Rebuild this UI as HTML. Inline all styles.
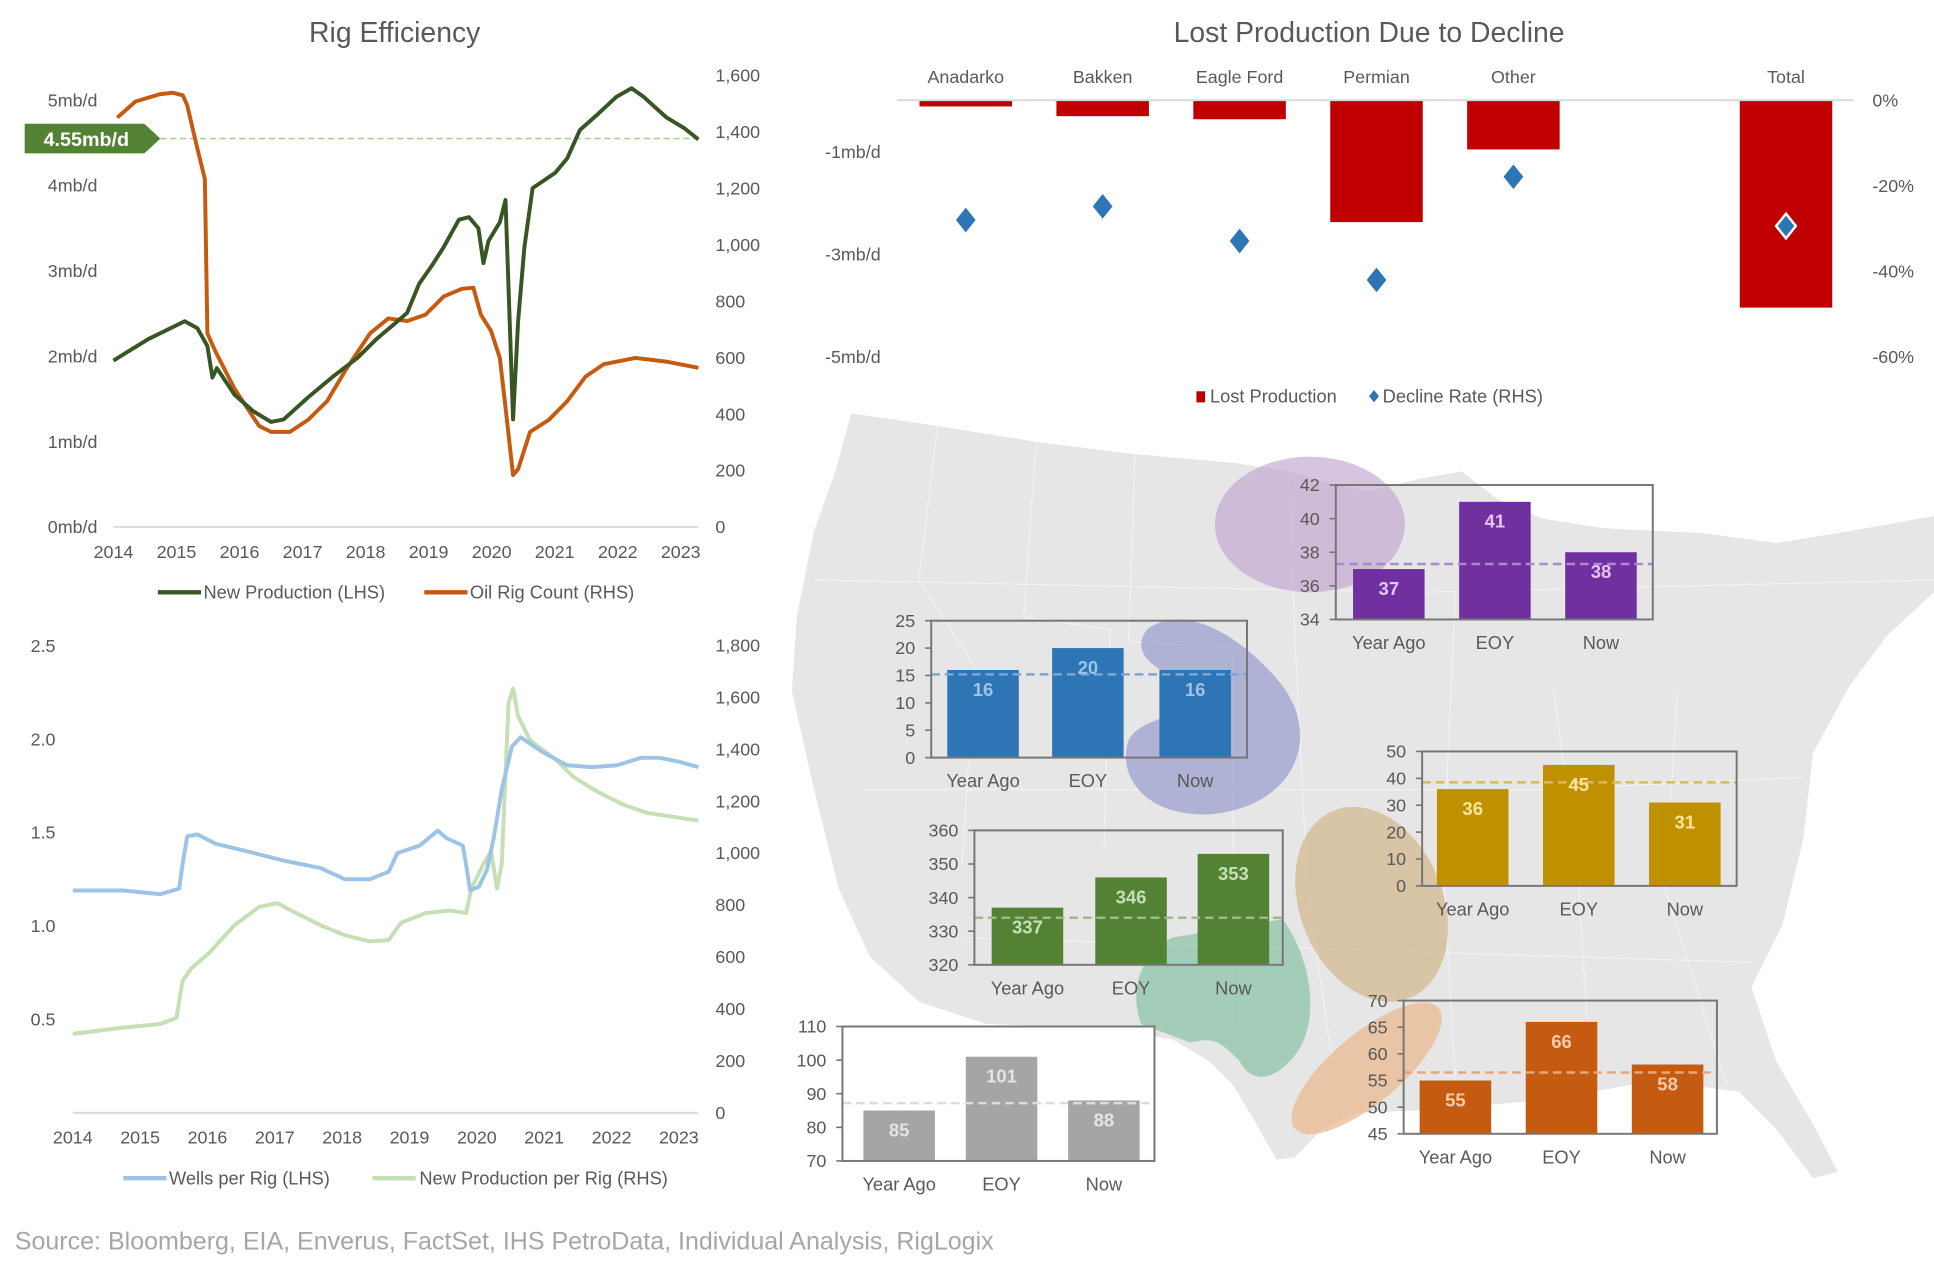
<!DOCTYPE html>
<html><head><meta charset="utf-8">
<style>
html,body{margin:0;padding:0;background:#fff;}
svg{display:block;font-family:"Liberation Sans",Arial,sans-serif;}
text{fill:#595959;}
</style></head>
<body>
<svg id="root" width="1934" height="1271" viewBox="0 0 1568 1030" xmlns="http://www.w3.org/2000/svg">
  <g id="map">
    <path fill="#e6e6e6" d="M690,335 L760,345 L840,358 L920,368 L1000,375 L1045,382 L1080,392 L1110,398 L1150,388 L1185,382 L1215,405 L1250,420 L1300,428 L1380,432 L1440,440 L1490,432 L1530,425 L1568,418 L1568,480 L1530,515 L1500,555 L1470,610 L1462,680 L1445,750 L1420,800 L1440,860 L1472,915 L1490,950 L1470,955 L1440,915 L1410,885 L1375,880 L1330,878 L1290,885 L1250,892 L1200,896 L1150,900 L1100,902 L1072,915 L1050,938 L1035,940 L1015,905 L1000,880 L980,860 L950,842 L905,836 L860,832 L800,830 L745,812 L705,775 L680,720 L660,640 L642,560 L646,500 L660,430 L678,380 Z"/>
    <g stroke="#fff" stroke-width="1" fill="none" opacity="0.45">
      <path d="M760,345 L745,470 L790,540 L780,700"/>
      <path d="M840,358 L830,500 L900,510 L895,690"/>
      <path d="M920,368 L915,520 L1000,525 L1000,830"/>
      <path d="M1045,382 L1050,520 L1060,720 L1080,860"/>
      <path d="M1180,480 L1170,700 L1180,880"/>
      <path d="M1260,560 L1280,720 L1290,880"/>
      <path d="M1360,560 L1350,720 L1400,880"/>
      <path d="M660,470 L1150,480 L1568,470"/>
      <path d="M700,640 L1250,640 L1460,630"/>
      <path d="M780,760 L1420,780"/>
    </g>
    <ellipse cx="1062" cy="425" rx="77" ry="55" fill="rgba(190,160,205,0.62)"/>
    <path fill="rgba(140,145,200,0.62)" d="M930,510 C960,488 1005,515 1035,550 C1075,595 1050,655 980,660 C930,662 905,630 915,600 C925,580 960,585 965,560 C950,545 912,535 930,510 Z"/>
    <ellipse cx="1112" cy="733" rx="58" ry="82" transform="rotate(-22 1112 733)" fill="rgba(210,185,140,0.72)"/>
    <path fill="rgba(140,195,170,0.75)" d="M950,760 L1040,745 C1065,780 1070,830 1050,855 C1035,875 1015,880 1005,860 C990,845 985,840 965,845 L925,830 C915,800 925,775 950,760 Z"/>
    <ellipse cx="1108" cy="866" rx="76" ry="28" transform="rotate(-40 1108 866)" fill="rgba(235,185,140,0.72)"/>
  </g>
  <g id="charts"></g>
  <text x="12" y="1013" font-size="20.3" style="fill:#a6a6a6">Source: Bloomberg, EIA, Enverus, FactSet, IHS PetroData, Individual Analysis, RigLogix</text>
</svg>
<script>
// ---------- Data: Rig Efficiency (top-left) ----------
const npYears = [2014.0,2014.55,2015.13,2015.33,2015.49,2015.57,2015.64,2015.92,2016.21,2016.5,2016.7,2017.09,2017.48,2017.87,2018.17,2018.46,2018.66,2018.85,2019.05,2019.24,2019.48,2019.64,2019.79,2019.87,2019.95,2020.13,2020.22,2020.34,2020.42,2020.52,2020.65,2021.01,2021.2,2021.4,2021.69,2021.98,2022.22,2022.41,2022.77,2023.06,2023.28];
const npValues = [1.95,2.2,2.41,2.33,2.12,1.75,1.86,1.55,1.36,1.23,1.26,1.52,1.76,1.98,2.2,2.38,2.51,2.85,3.06,3.28,3.6,3.63,3.5,3.09,3.35,3.57,3.83,1.26,2.41,3.28,3.97,4.15,4.32,4.65,4.84,5.04,5.14,5.04,4.8,4.67,4.54];
const rigYears = [2014.06,2014.35,2014.74,2014.94,2015.1,2015.17,2015.33,2015.45,2015.49,2015.62,2015.92,2016.31,2016.5,2016.8,2017.09,2017.39,2017.68,2018.07,2018.36,2018.66,2018.95,2019.24,2019.53,2019.71,2019.83,2019.99,2020.13,2020.22,2020.34,2020.42,2020.61,2020.91,2021.2,2021.49,2021.78,2022.28,2022.77,2023.28];
const rigValues = [1451,1508,1534,1539,1530,1495,1342,1233,686,621,490,358,337,337,380,446,555,686,739,730,752,817,844,848,752,695,599,424,184,205,337,380,446,533,577,599,586,564];
const currentLevel = 4.55;
const yearTicks = [2014,2015,2016,2017,2018,2019,2020,2021,2022,2023];
const lhsTicks1 = [0,1,2,3,4,5];
const rhsTicks1 = [0,200,400,600,800,1000,1200,1400,1600];
// ---------- Data: Wells per Rig (bottom-left) ----------
const wprYears = [2014.0,2014.75,2015.3,2015.58,2015.63,2015.7,2015.85,2016.12,2016.58,2017.13,2017.68,2018.04,2018.41,2018.69,2018.82,2019.15,2019.42,2019.55,2019.79,2019.84,2019.9,2020.03,2020.15,2020.25,2020.37,2020.52,2020.65,2020.98,2021.34,2021.71,2022.08,2022.44,2022.72,2022.99,2023.29];
const wprValues = [1.19,1.19,1.17,1.2,1.33,1.48,1.49,1.44,1.4,1.35,1.31,1.25,1.25,1.29,1.39,1.43,1.51,1.47,1.43,1.33,1.19,1.21,1.3,1.47,1.73,1.96,2.01,1.93,1.86,1.85,1.86,1.9,1.9,1.88,1.85];
const nprYears = [2014.0,2014.75,2015.3,2015.54,2015.63,2015.76,2016.03,2016.4,2016.77,2017.04,2017.32,2017.68,2018.04,2018.41,2018.69,2018.87,2019.24,2019.6,2019.84,2019.92,2020.1,2020.21,2020.3,2020.37,2020.47,2020.54,2020.61,2020.79,2021.16,2021.44,2021.8,2022.17,2022.54,2022.9,2023.29];
const nprValues = [304,328,342,366,508,556,617,722,793,807,769,722,684,660,665,731,769,779,769,864,959,1007,864,959,1576,1633,1529,1434,1363,1292,1235,1187,1154,1140,1125];
const lhsTicks2 = [0.5,1.0,1.5,2.0,2.5];
const rhsTicks2 = [0,200,400,600,800,1000,1200,1400,1600,1800];
// ---------- Data: Lost Production (top-right) ----------
const basins = ["Anadarko","Bakken","Eagle Ford","Permian","Other","Total"];
const lostProd = [-0.11,-0.30,-0.36,-2.37,-0.95,-4.04];
const declineRate = [-28,-24.8,-32.9,-42,-17.9,-29.4];
const lostTicks = [-1,-3,-5];
const rateTicks = [0,-20,-40,-60];
// ---------- Data: inset rig-count charts ----------
const insetCats = ["Year Ago","EOY","Now"];
const bakkenVals = [37,41,38];
const djVals = [16,20,16];
const anadarkoVals = [36,45,31];
const permianVals = [337,346,353];
const otherVals = [85,101,88];
const eagleVals = [55,66,58];
const bakkenAvg = 37.3, djAvg = 15.2, anadarkoAvg = 38.5, permianAvg = 334, otherAvg = 87.2, eagleAvg = 56.5;

const NS = "http://www.w3.org/2000/svg";
const root = document.getElementById('charts');
function mk(tag, attrs, parent){
  const e = document.createElementNS(NS, tag);
  for (const k in attrs) e.setAttribute(k, attrs[k]);
  (parent||root).appendChild(e);
  return e;
}
function txt(x,y,s,size,anchor,fill,parent){
  const t = mk('text',{x:x,y:y,'font-size':size,'text-anchor':anchor||'middle'},parent);
  if (fill) t.style.fill = fill;
  t.textContent = s;
  return t;
}
function fmt(n){ return n.toLocaleString('en-US'); }

// ===== Chart 1: Rig Efficiency =====
(function(){
  const g = mk('g',{});
  
  
  const x = yr => 92 + (yr-2014)*51.1;
  const yL = v => 427 - v*69.2;
  const yR = v => 427 - v*0.22875;
  const t = txt(320,34,'Rig Efficiency',23,'middle',null,g);
  
  
  const base = mk('line',{x1:92,x2:566,y1:427,y2:427,stroke:'#d9d9d9','stroke-width':1.5},g);
  
  
  lhsTicks1.forEach(v=>{
    const e = txt(79,yL(v)+5,v+'mb/d',14.5,'end',null,g);
    
    
  });
  rhsTicks1.forEach(v=>{
    const e = txt(580,yR(v)+5,fmt(v),14.5,'start',null,g);
    
    
  });
  yearTicks.forEach(v=>{
    const e = txt(x(v),452,String(v),14.5,'middle',null,g);
    
    
  });
  const dash = mk('line',{x1:130,x2:566,y1:yL(currentLevel),y2:yL(currentLevel),stroke:'#a9d18e','stroke-width':1.3,'stroke-dasharray':'5,3'},g);
  
  
  const yc = yL(currentLevel);
  const badge = mk('polygon',{points:`20,${yc-12} 117,${yc-12} 130,${yc} 117,${yc+12} 20,${yc+12}`,fill:'#548235'},g);
  
  
  const bt = txt(70,yc+6,currentLevel.toFixed(2)+'mb/d',16,'middle','#fff',g);
  bt.setAttribute('font-weight','bold');
  
  
  const rig = mk('polyline',{points:rigYears.map((yr,i)=>x(yr)+','+yR(rigValues[i])).join(' '),fill:'none',stroke:'#c55a11','stroke-width':3.2,'stroke-linejoin':'round'},g);
  
  
  const np = mk('polyline',{points:npYears.map((yr,i)=>x(yr)+','+yL(npValues[i])).join(' '),fill:'none',stroke:'#375623','stroke-width':3.2,'stroke-linejoin':'round'},g);
  
  
  const l1 = mk('line',{x1:128,x2:163,y1:480,y2:480,stroke:'#375623','stroke-width':3.5},g);
  
  
  const lt1 = txt(165,485,'New Production (LHS)',14.8,'start',null,g);
  
  
  const l2 = mk('line',{x1:344,x2:379,y1:480,y2:480,stroke:'#c55a11','stroke-width':3.5},g);
  
  
  const lt2 = txt(381,485,'Oil Rig Count (RHS)',14.8,'start',null,g);
  
  
})();

// ===== Chart 2: Wells per Rig =====
(function(){
  const g = mk('g',{});
  
  
  const x = yr => 59 + (yr-2014)*54.6;
  const yL = v => 902 - v*151.5;
  const yR = v => 902 - v*0.2106;
  const base = mk('line',{x1:59,x2:566,y1:902,y2:902,stroke:'#d9d9d9','stroke-width':1.5},g);
  
  
  lhsTicks2.forEach(v=>{
    const e = txt(45,yL(v)+5,v.toFixed(1),14.5,'end',null,g);
    
    
  });
  rhsTicks2.forEach(v=>{
    const e = txt(580,yR(v)+5,fmt(v),14.5,'start',null,g);
    
    
  });
  yearTicks.forEach(v=>{
    const e = txt(x(v),927,String(v),14.5,'middle',null,g);
    
    
  });
  const npr = mk('polyline',{points:nprYears.map((yr,i)=>x(yr)+','+yR(nprValues[i])).join(' '),fill:'none',stroke:'#c5e0b4','stroke-width':3.2,'stroke-linejoin':'round'},g);
  
  
  const wpr = mk('polyline',{points:wprYears.map((yr,i)=>x(yr)+','+yL(wprValues[i])).join(' '),fill:'none',stroke:'#9dc3e6','stroke-width':3.2,'stroke-linejoin':'round'},g);
  
  
  const l1 = mk('line',{x1:100,x2:135,y1:955,y2:955,stroke:'#9dc3e6','stroke-width':3.5},g);
  
  
  const lt1 = txt(137,960,'Wells per Rig (LHS)',14.8,'start',null,g);
  
  
  const l2 = mk('line',{x1:302,x2:337,y1:955,y2:955,stroke:'#c5e0b4','stroke-width':3.5},g);
  
  
  const lt2 = txt(340,960,'New Production per Rig (RHS)',14.8,'start',null,g);
  
  
})();

// ===== Chart 3: Lost Production Due to Decline =====
(function(){
  const g = mk('g',{});
  
  
  const centers = [783,894,1005,1116,1227,1448];
  const yLft = v => 81.5 - v*41.5;
  const yR = v => 81 - v*3.47;
  const t = txt(1110,34,'Lost Production Due to Decline',23,'middle',null,g);
  
  
  basins.forEach((b,i)=>{
    const e = txt(centers[i],67,b,14.5,'middle',null,g);
    
    
    const v = lostProd[i];
    const r = mk('rect',{x:centers[i]-37.5,y:81,width:75,height:Math.max(0,yLft(v)-81),fill:'#c00000'},g);
    
    
  });
  const zl = mk('line',{x1:727,x2:1503,y1:81,y2:81,stroke:'#d9d9d9','stroke-width':1.5},g);
  
  
  basins.forEach((b,i)=>{
    const cx = centers[i], cy = yR(declineRate[i]);
    const last = i===basins.length-1;
    const d = mk('polygon',{points:`${cx},${cy-10} ${cx+8},${cy} ${cx},${cy+10} ${cx-8},${cy}`,fill:'#2e75b6',stroke:last?'#fff':'none','stroke-width':last?2:0},g);
    
    
  });
  lostTicks.forEach(v=>{
    const e = txt(714,yLft(v)+5,v+'mb/d',14.5,'end',null,g);
    
    
  });
  rateTicks.forEach(v=>{
    const e = txt(1518,yR(v)+5,v+'%',14.5,'start',null,g);
    
    
  });
  const s1 = mk('rect',{x:970,y:317,width:7,height:9,fill:'#c00000'},g);
  
  
  const lt1 = txt(981,326,'Lost Production',14.8,'start',null,g);
  
  
  const s2 = mk('polygon',{points:'1114,316 1118,321 1114,326 1110,321',fill:'#2e75b6'},g);
  
  
  const lt2 = txt(1121,326,'Decline Rate (RHS)',14.8,'start',null,g);
  
  
})();

// ===== Inset bar charts =====
function inset(name, box, yMin, yMax, step, vals, avg, color, lblColor, dashColor, centers, white){
  const g = mk('g',{});
  
  
  const [x0,y0,x1,y1] = box;
  const y = v => y1 - (v-yMin)/(yMax-yMin)*(y1-y0);
  if (white){
    const bg = mk('rect',{x:x0,y:y0,width:x1-x0,height:y1-y0,fill:'#fff'},g);
    
    
  }
  for (let v=yMin; v<=yMax+1e-9; v+=step){
    const e = txt(x0-13,y(v)+5,String(v),14.5,'end',null,g);
    
    
    const tk = mk('line',{x1:x0-5,x2:x0,y1:y(v),y2:y(v),stroke:'#767676','stroke-width':1.3},g);
    
    
  }
  vals.forEach((v,i)=>{
    const b = mk('rect',{x:centers[i]-29,y:y(v),width:58,height:y1-y(v),fill:color},g);
    
    
  });
  const dl = mk('line',{x1:x0,x2:x1,y1:y(avg),y2:y(avg),stroke:dashColor,'stroke-width':2,'stroke-dasharray':'7,4'},g);
  
  
  vals.forEach((v,i)=>{
    const vt = txt(centers[i],y(v)+21,String(v),15,'middle',lblColor,g);
    vt.setAttribute('font-weight','bold');
    
    
    const ct = txt(centers[i],y1+24,insetCats[i],14.8,'middle',null,g);
    
    
  });
  const fr = mk('rect',{x:x0,y:y0,width:x1-x0,height:y1-y0,fill:'none',stroke:'#767676','stroke-width':1.6},g);
  
  
}
inset('bakken-inset',[1083,393,1340,502],34,42,2,bakkenVals,bakkenAvg,'#7030a0','#e4c4f8','#a98ad0',[1126,1212,1298],false);
inset('dj-basin-inset',[755,503,1011,614],0,25,5,djVals,djAvg,'#2e75b6','#9dc3e6','#7aa7d6',[797,882,969],false);
inset('anadarko-inset',[1153,609,1408,718],0,50,10,anadarkoVals,anadarkoAvg,'#bf9000','#ffe699','#d9bb5c',[1194,1280,1366],false);
inset('permian-inset',[790,673,1040,782],320,360,10,permianVals,permianAvg,'#548235','#c5e0b4','#9cb987',[833,917,1000],false);
inset('other-inset',[683,832,936,941],70,110,10,otherVals,otherAvg,'#a5a5a5','#e4e4e4','#dcdcdc',[729,812,895],true);
inset('eagle-ford-inset',[1138,811,1392,919],45,70,5,eagleVals,eagleAvg,'#c55a11','#f8cbad','#e6a67c',[1180,1266,1352],false);
</script>
</body></html>
